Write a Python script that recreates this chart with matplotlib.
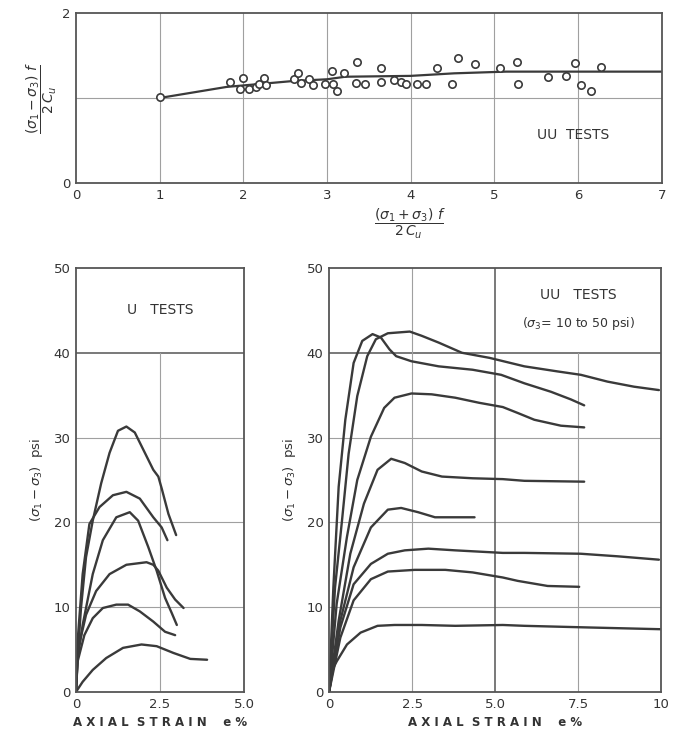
import matplotlib.pyplot as plt
import numpy as np

# top panel: failure stress ratios, UU tests
p_ratio = [1.0, 1.84, 2.0, 1.96, 2.07, 2.15, 2.19, 2.25, 2.27, 2.6, 2.65, 2.69, 2.79, 2.83,
           2.98, 3.06, 3.07, 3.12, 3.2, 3.36, 3.35, 3.46, 3.64, 3.65, 3.8, 3.88, 3.94, 4.07,
           4.18, 4.32, 4.49, 4.56, 4.77, 5.07, 5.27, 5.28, 5.64, 5.86, 5.96, 6.03, 6.16, 6.27]
q_ratio = [1.01, 1.19, 1.23, 1.10, 1.11, 1.13, 1.16, 1.23, 1.15, 1.22, 1.29, 1.18, 1.22, 1.15,
           1.16, 1.32, 1.17, 1.08, 1.29, 1.42, 1.18, 1.16, 1.35, 1.19, 1.21, 1.19, 1.16, 1.16,
           1.16, 1.35, 1.16, 1.47, 1.40, 1.35, 1.42, 1.16, 1.25, 1.26, 1.41, 1.15, 1.08, 1.36]
trend_p = [1.0, 1.8, 2.6, 3.0, 3.22, 4.0, 4.52, 5.14, 7.0]
trend_q = [1.0, 1.13, 1.2, 1.22, 1.25, 1.26, 1.29, 1.31, 1.31]

# lower left: U tests, (strain %, deviator stress psi)
u_tests = [
    ([0, 0.05, 0.15, 0.3, 0.5, 0.75, 1.0, 1.25, 1.5, 1.75, 2.0, 2.3, 2.45, 2.55, 2.75, 2.98],
     [0, 4, 9.9, 15.9, 20.2, 24.6, 28.2, 30.8, 31.3, 30.6, 28.6, 26.2, 25.4, 24.0, 21.0, 18.5]),
    ([0, 0.05, 0.2, 0.4, 0.7, 1.1, 1.5, 1.9, 2.3, 2.55, 2.72],
     [0, 6, 13.9, 19.8, 21.8, 23.2, 23.6, 22.8, 20.6, 19.4, 17.9]),
    ([0, 0.05, 0.2, 0.5, 0.8, 1.2, 1.6, 1.85, 2.15, 2.4, 2.65, 2.85, 3.0],
     [0, 4, 7.9, 13.9, 17.9, 20.6, 21.2, 20.2, 17.1, 14.3, 11.1, 9.3, 7.9]),
    ([0, 0.05, 0.3, 0.6, 1.0, 1.5, 2.1, 2.3, 2.45, 2.7, 2.95, 3.2],
     [0, 4.8, 9.1, 11.9, 13.9, 15.0, 15.3, 15.0, 14.3, 12.3, 10.9, 9.9]),
    ([0, 0.05, 0.25, 0.5, 0.8, 1.2, 1.55, 1.9, 2.3, 2.65, 2.95],
     [0, 3.6, 6.7, 8.7, 9.9, 10.3, 10.3, 9.5, 8.3, 7.1, 6.7]),
    ([0, 0.2, 0.5, 0.9, 1.4, 1.95, 2.4, 2.9, 3.4, 3.9],
     [0, 1.2, 2.6, 4.0, 5.2, 5.6, 5.4, 4.6, 3.9, 3.8]),
]

# lower right: UU tests, sigma3 = 10 to 50 psi
uu_tests = [
    ([0, 0.13, 0.29, 0.49, 0.74, 1.0, 1.31, 1.56, 1.82, 2.02, 2.48, 3.3, 4.32, 5.18, 5.88, 6.68, 7.28, 7.68],
     [0, 12.3, 24.2, 32.1, 38.8, 41.4, 42.2, 41.8, 40.4, 39.6, 39.0, 38.4, 38.0, 37.4, 36.4, 35.4, 34.5, 33.8]),
    ([0, 0.18, 0.39, 0.59, 0.85, 1.15, 1.41, 1.77, 2.43, 2.79, 3.3, 4.0, 4.83, 5.88, 6.88, 7.58, 8.38, 9.18, 9.93],
     [0, 12.3, 20.2, 28.1, 34.9, 39.6, 41.6, 42.3, 42.5, 42.0, 41.2, 40.0, 39.4, 38.4, 37.8, 37.4, 36.6, 36.0, 35.6]),
    ([0, 0.23, 0.54, 0.85, 1.26, 1.66, 1.97, 2.48, 3.09, 3.8, 4.52, 5.23, 5.68, 6.18, 6.98, 7.68],
     [0, 10.4, 18.3, 25.0, 30.1, 33.5, 34.7, 35.2, 35.1, 34.7, 34.1, 33.6, 32.9, 32.1, 31.4, 31.2]),
    ([0, 0.29, 0.64, 1.05, 1.46, 1.87, 2.28, 2.79, 3.4, 4.32, 5.23, 5.88, 7.68],
     [0, 8.4, 16.3, 22.2, 26.2, 27.5, 27.0, 26.0, 25.4, 25.2, 25.1, 24.9, 24.8]),
    ([0, 0.34, 0.74, 1.26, 1.77, 2.17, 2.68, 3.19, 3.7, 4.38],
     [0, 8.4, 14.7, 19.4, 21.5, 21.7, 21.2, 20.6, 20.6, 20.6]),
    ([0, 0.34, 0.74, 1.26, 1.77, 2.28, 2.99, 3.8, 5.23, 5.88, 7.58, 8.68, 9.93],
     [0, 7.6, 12.7, 15.1, 16.3, 16.7, 16.9, 16.7, 16.4, 16.4, 16.3, 16.0, 15.6]),
    ([0, 0.34, 0.74, 1.26, 1.77, 2.58, 3.5, 4.32, 5.23, 5.68, 6.58, 7.53],
     [0, 6.4, 10.8, 13.3, 14.2, 14.4, 14.4, 14.1, 13.5, 13.1, 12.5, 12.4]),
    ([0, 0.1, 0.23, 0.54, 0.95, 1.46, 1.97, 2.79, 3.8, 5.23, 5.88, 7.88, 9.98],
     [0, 2.6, 3.6, 5.6, 7.0, 7.8, 7.9, 7.9, 7.8, 7.9, 7.8, 7.6, 7.4]),
]

ink = '#3a3a3a'
frame = '#555555'
gridc = '#a0a0a0'
txt = '#333333'

plt.rcParams['font.family'] = ['DejaVu Sans']
plt.rcParams['mathtext.fontset'] = 'dejavusans'

fig = plt.figure(figsize=(6.78, 7.37), dpi=100)
fig.patch.set_facecolor('white')

ax_top = fig.add_axes([0.112, 0.7517, 0.864, 0.2307])
ax_u = fig.add_axes([0.112, 0.0611, 0.248, 0.5753])
ax_uu = fig.add_axes([0.4853, 0.0611, 0.490, 0.5753])


def style(ax):
    for s in ax.spines.values():
        s.set_color(frame)
        s.set_linewidth(1.3)
    ax.tick_params(length=0, labelsize=9.5, labelcolor=txt, pad=4)


# ---- top panel
style(ax_top)
ax_top.set_xlim(0, 7)
ax_top.set_ylim(0, 2)
for xv in range(1, 7):
    ax_top.axvline(xv, color=gridc, lw=0.8, zorder=0)
ax_top.axhline(1, color=gridc, lw=0.8, zorder=0)
ax_top.plot(trend_p, trend_q, color=ink, lw=1.6, zorder=2)
ax_top.scatter(p_ratio, q_ratio, s=28, facecolors='white', edgecolors=ink, linewidths=1.2, zorder=3)
ax_top.set_xticks(range(0, 8))
ax_top.set_yticks([0, 2])
ax_top.text(5.94, 0.56, 'UU  TESTS', fontsize=10, color=txt, ha='center', va='center')
ax_top.set_ylabel(r'$\dfrac{(\sigma_1 - \sigma_3)\ f}{2\,C_u}$', fontsize=10, color=txt, labelpad=2)
ax_top.set_xlabel(r'$\dfrac{(\sigma_1 + \sigma_3)\ f}{2\,C_u}$', fontsize=10, color=txt)
ax_top.xaxis.set_label_coords(0.57, -0.14)

# ---- lower left panel
style(ax_u)
ax_u.set_xlim(0, 5)
ax_u.set_ylim(0, 50)
for yv in (10, 20, 30):
    ax_u.axhline(yv, color=gridc, lw=0.8, zorder=0)
ax_u.axhline(40, color=frame, lw=1.1, zorder=0)
ax_u.plot([2.5, 2.5], [0, 40], color=gridc, lw=0.8, zorder=0)
for xs, ys in u_tests:
    ax_u.plot(xs, ys, color=ink, lw=1.7, solid_joinstyle='round', solid_capstyle='round')
ax_u.set_xticks([0, 2.5, 5])
ax_u.set_xticklabels(['0', '2.5', '5.0'])
ax_u.set_yticks([0, 10, 20, 30, 40, 50])
ax_u.text(2.5, 45, 'U   TESTS', fontsize=10, color=txt, ha='center', va='center')
ax_u.set_ylabel(r'$(\sigma_1 - \sigma_3)$  psi', fontsize=9.5, color=txt, labelpad=6)
ax_u.set_xlabel('A X I A L  S T R A I N    e %', fontsize=8.5, color=txt, labelpad=4, fontweight='bold')

# ---- lower right panel
style(ax_uu)
ax_uu.set_xlim(0, 10)
ax_uu.set_ylim(0, 50)
for yv in (10, 20, 30):
    ax_uu.axhline(yv, color=gridc, lw=0.8, zorder=0)
ax_uu.axhline(40, color=frame, lw=1.1, zorder=0)
ax_uu.axvline(2.5, color=gridc, lw=0.8, zorder=0)
ax_uu.axvline(5.0, color=frame, lw=1.1, zorder=0)
ax_uu.plot([7.5, 7.5], [0, 40], color=gridc, lw=0.8, zorder=0)
for xs, ys in uu_tests:
    ax_uu.plot(xs, ys, color=ink, lw=1.7, solid_joinstyle='round', solid_capstyle='round')
ax_uu.set_xticks([0, 2.5, 5, 7.5, 10])
ax_uu.set_xticklabels(['0', '2.5', '5.0', '7.5', '10'])
ax_uu.set_yticks([0, 10, 20, 30, 40, 50])
ax_uu.text(7.5, 46.8, 'UU   TESTS', fontsize=10, color=txt, ha='center', va='center')
ax_uu.text(7.5, 43.4, r'$(\sigma_3$= 10 to 50 psi)', fontsize=9, color=txt, ha='center', va='center')
ax_uu.set_ylabel(r'$(\sigma_1 - \sigma_3)$  psi', fontsize=9.5, color=txt, labelpad=6)
ax_uu.set_xlabel('A X I A L  S T R A I N    e %', fontsize=8.5, color=txt, labelpad=4, fontweight='bold')

fig.savefig('out.png', dpi=100, facecolor='white')
